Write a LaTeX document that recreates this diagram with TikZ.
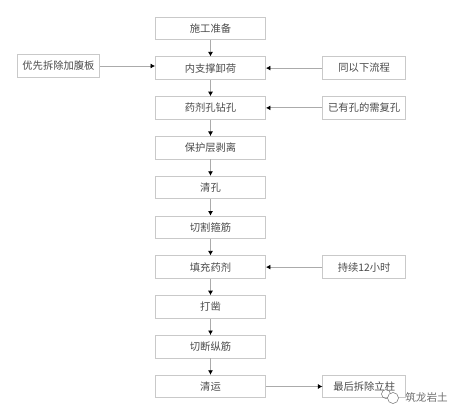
\documentclass[tikz,border=0pt]{standalone}
\usepackage{fontspec}
\setmainfont{Noto Sans CJK SC}
\usetikzlibrary{arrows.meta,positioning}
\definecolor{Edge}{HTML}{C9C9C9}
\definecolor{Wire}{HTML}{ABABAB}
\definecolor{Ink}{HTML}{4A4A4A}
\definecolor{Mark}{HTML}{6E6E6E}
\begin{document}
\begin{tikzpicture}[node distance=16.4pt and 56.5pt,
box/.style={draw=Edge,line width=0.9pt,text=Ink,minimum width=110pt,minimum height=22.5pt,inner sep=0pt,align=center,font=\fontsize{10.3}{12}\selectfont},
side/.style={box,minimum width=82.5pt},
arr/.style={-{Latex[length=4.5pt,width=5pt,black]},draw=Wire,line width=0.8pt}]
\useasboundingbox (0,0) rectangle (463pt,-417pt);
\node[box] (prep) at (210.5pt,-28.3pt) {施工准备};
\node[box,below=of prep] (unload) {内支撑卸荷};
\node[box,below=of unload] (drill) {药剂孔钻孔};
\node[box,below=of drill] (strip) {保护层剥离};
\node[box,below=of strip] (clean) {清孔};
\node[box,below=of clean] (stirrup) {切割箍筋};
\node[box,below=of stirrup] (fill) {填充药剂};
\node[box,below=of fill] (chisel) {打凿};
\node[box,below=of chisel] (rebar) {切断纵筋};
\node[box,below=of rebar] (haul) {清运};
\node[side,minimum width=82pt] (plate) at (58.5pt,-66pt) {优先拆除加腹板};
\node[side,right=of unload] (same) {同以下流程};
\node[side,right=of drill] (repair) {已有孔的需复孔};
\node[side,right=of fill] (hours) {持续12小时};
\node[side,right=of haul] (column) {最后拆除立柱};
\draw[arr] (prep)--(unload);\draw[arr] (unload)--(drill);\draw[arr] (drill)--(strip);
\draw[arr] (strip)--(clean);\draw[arr] (clean)--(stirrup);\draw[arr] (stirrup)--(fill);
\draw[arr] (fill)--(chisel);\draw[arr] (chisel)--(rebar);\draw[arr] (rebar)--(haul);
\draw[arr] (plate.east) -- (plate.east -| unload.west);
\draw[arr] (same)--(unload);
\draw[arr] (repair)--(drill);
\draw[arr] (hours)--(fill);
\draw[arr] (haul)--(column);
% watermark
\node[font=\fontsize{10.6}{12}\selectfont,text=Mark,inner sep=0pt] (logo) at (426.5pt,-397pt) {筑龙岩土};
\node[circle,draw=Mark,line width=0.5pt,minimum size=9pt,inner sep=0pt] (bubble) at (386pt,-394pt) {};
\node[circle,draw=Mark,line width=0.5pt,fill=white,minimum size=11pt,inner sep=0pt] (bubbletwo) at (393pt,-398pt) {};
\end{tikzpicture}
\end{document}
